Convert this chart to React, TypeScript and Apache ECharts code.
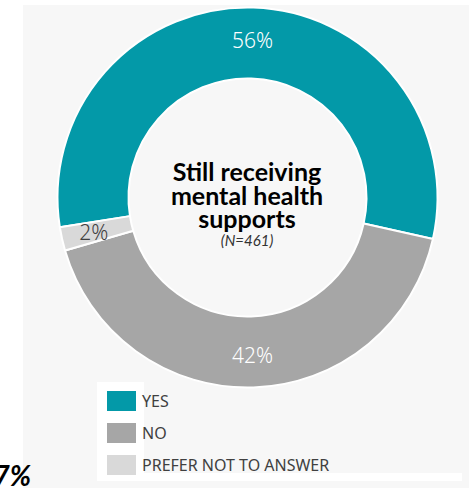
import React, { useEffect, useRef } from "react";
import * as echarts from "echarts";

const categories = ["YES", "NO", "PREFER NOT TO ANSWER"];
const values = [56, 42, 2];
const colors = ["#0399A8", "#A6A6A6", "#D9D9D9"];
const labelColors = ["#FFFFFF", "#FFFFFF", "#404040"];
const centerTitle = ["Still receiving", "mental health", "supports"];
const centerNote = "(N=461)";
const cornerText = "7%";

export default function App() {
  const ref = useRef<HTMLDivElement>(null);
  useEffect(() => {
    if (!ref.current) return;
    const chart = echarts.init(ref.current, null, { renderer: "svg" });
    const data = categories.map((name, i) => ({
      name,
      value: values[i],
      itemStyle: { color: colors[i] },
      label: { color: labelColors[i] },
    }));
    const titleLines = centerTitle.map((t, i) => ({
      type: "text",
      x: 247,
      y: 171 + i * 23.5,
      style: {
        text: t,
        fontFamily: "Lato",
        fontWeight: "bold",
        fontSize: 25,
        lineHeight: 23,
        fill: "#000000",
        textAlign: "center",
        textVerticalAlign: "middle",
      },
      z: 10,
    }));
    chart.setOption({
      animation: false,
      backgroundColor: "#FFFFFF",
      graphic: [
        { type: "rect", shape: { x: 23, y: 5, width: 446, height: 483 }, style: { fill: "#F7F7F7" }, z: -10 },
        { type: "rect", shape: { x: 97, y: 382, width: 47, height: 99 }, style: { fill: "#FFFFFF" }, z: -9 },
        { type: "rect", shape: { x: 97, y: 473, width: 365, height: 8 }, style: { fill: "#FFFFFF" }, z: -9 },
        ...titleLines,
        {
          type: "text",
          x: 247,
          y: 240,
          style: {
            text: centerNote,
            fontFamily: "Lato",
            fontStyle: "italic",
            fontSize: 15,
            lineHeight: 15,
            fill: "#333333",
            textAlign: "center",
            textVerticalAlign: "middle",
          },
          z: 10,
        },
        {
          type: "text",
          x: 31,
          y: 461,
          style: {
            text: cornerText,
            fontFamily: "Lato",
            fontWeight: "bold",
            fontStyle: "italic",
            fontSize: 28,
            fill: "#000000",
            textAlign: "right",
            textVerticalAlign: "top",
          },
          z: 10,
        },
      ],
      legend: {
        orient: "vertical",
        left: 105,
        top: 389,
        height: 95,
        padding: 0,
        itemWidth: 31,
        itemHeight: 22,
        itemGap: 8,
        icon: "rect",
        data: categories,
        textStyle: { fontFamily: "Noto Sans", fontSize: 16, color: "#404040" },
        selectedMode: false,
      },
      series: [
        {
          type: "pie",
          center: [247.5, 197.5],
          radius: [119, 190],
          startAngle: 189,
          clockwise: true,
          data,
          itemStyle: { borderColor: "#FFFFFF", borderWidth: 2 },
          label: {
            show: true,
            position: "inside",
            formatter: "{c}%",
            fontFamily: "Noto Sans",
            fontWeight: 300,
            fontSize: 21,
          },
          labelLine: { show: false },
          emphasis: { disabled: true },
        },
      ],
    });
    return () => chart.dispose();
  }, []);
  return (
    <div
      ref={ref}
      style={{ position: "fixed", left: 0, top: 0, width: 469, height: 488 }}
    />
  );
}
